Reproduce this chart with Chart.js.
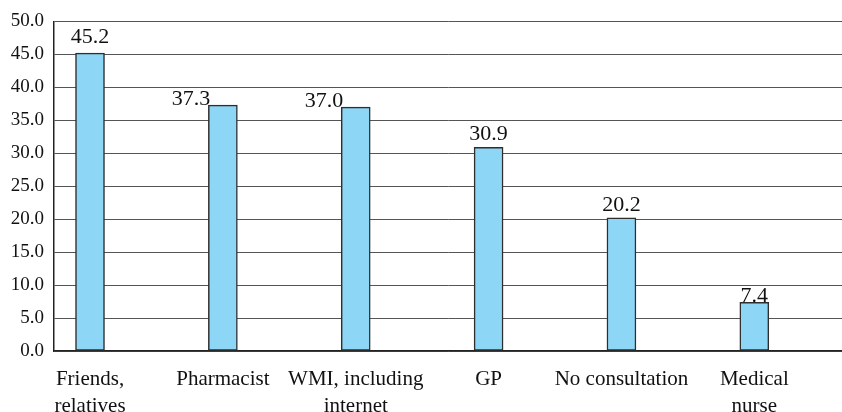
<!DOCTYPE html>
<html>
<head>
<meta charset="utf-8">
<script src="https://cdn.jsdelivr.net/npm/chart.js@4/dist/chart.umd.min.js"></script>
<style>
  html, body { margin: 0; padding: 0; background: #fff; }
  #wrap { width: 842px; height: 412px; position: relative; }
</style>
</head>
<body>
<div id="wrap"><canvas id="c" width="842" height="412"></canvas></div>
<script>
// Sources consulted (percent of respondents)
const categories = [
  ["Friends,", "relatives"],
  ["Pharmacist"],
  ["WMI, including", "internet"],
  ["GP"],
  ["No consultation"],
  ["Medical", "nurse"]
];
const shares = [45.2, 37.3, 37.0, 30.9, 20.2, 7.4];
const yTicks = [0, 5, 10, 15, 20, 25, 30, 35, 40, 45, 50];

// where each value label sits relative to its bar, and its gap above the bar top
const labelSide = ["above", "left", "left", "above", "above", "above"];
const labelGap = [10, 0, 0, 7, 7, 0];

const SERIF = '"Liberation Serif", "Times New Roman", serif';

const valueLabels = {
  id: 'valueLabels',
  afterDatasetsDraw(chart) {
    const ctx = chart.ctx;
    const meta = chart.getDatasetMeta(0);
    ctx.save();
    ctx.font = '22px ' + SERIF;
    ctx.fillStyle = '#111';
    ctx.textBaseline = 'alphabetic';
    meta.data.forEach((bar, i) => {
      const text = shares[i].toFixed(1);
      if (labelSide[i] === 'left') {
        ctx.textAlign = 'right';
        ctx.fillText(text, bar.x - bar.width / 2 + 2, bar.y - labelGap[i]);
      } else {
        ctx.textAlign = 'center';
        ctx.fillText(text, bar.x, bar.y - labelGap[i]);
      }
    });
    ctx.restore();
  }
};

new Chart(document.getElementById('c'), {
  type: 'bar',
  data: {
    datasets: [{
      data: shares.map((v, i) => ({ x: i, y: v })),
      backgroundColor: '#8dd6f6',
      borderColor: '#2e2e2e',
      borderWidth: 1.5,
      borderSkipped: false,
      barThickness: 29
    }]
  },
  options: {
    responsive: false,
    animation: false,
    devicePixelRatio: 1,
    layout: { padding: { top: 20, right: 0, bottom: 0, left: 0 } },
    plugins: { legend: { display: false }, tooltip: { enabled: false } },
    scales: {
      x: {
        type: 'linear',
        offset: false,
        min: -0.271,
        max: 5.66,
        afterBuildTicks(scale) {
          scale.ticks = categories.map((_, i) => ({ value: i }));
        },
        afterFit(scale) { scale.height = 61; },
        ticks: {
          autoSkip: false,
          maxRotation: 0,
          padding: 15,
          color: '#111',
          font: { family: SERIF, size: 21, lineHeight: 1.3 },
          callback: (v) => categories[v]
        },
        grid: { display: false, drawTicks: false, offset: false },
        border: { display: true, color: '#222', width: 1.5 }
      },
      y: {
        min: 0,
        max: 50,
        afterBuildTicks(scale) {
          scale.ticks = yTicks.map(v => ({ value: v }));
        },
        afterFit(scale) { scale.width = 54; },
        ticks: {
          padding: 10,
          color: '#111',
          font: { family: SERIF, size: 19 },
          callback: (v) => Number(v).toFixed(1)
        },
        grid: { color: '#555', lineWidth: 1, drawTicks: false },
        border: { display: true, color: '#222', width: 1.5 }
      }
    }
  },
  plugins: [valueLabels]
});
</script>
</body>
</html>
